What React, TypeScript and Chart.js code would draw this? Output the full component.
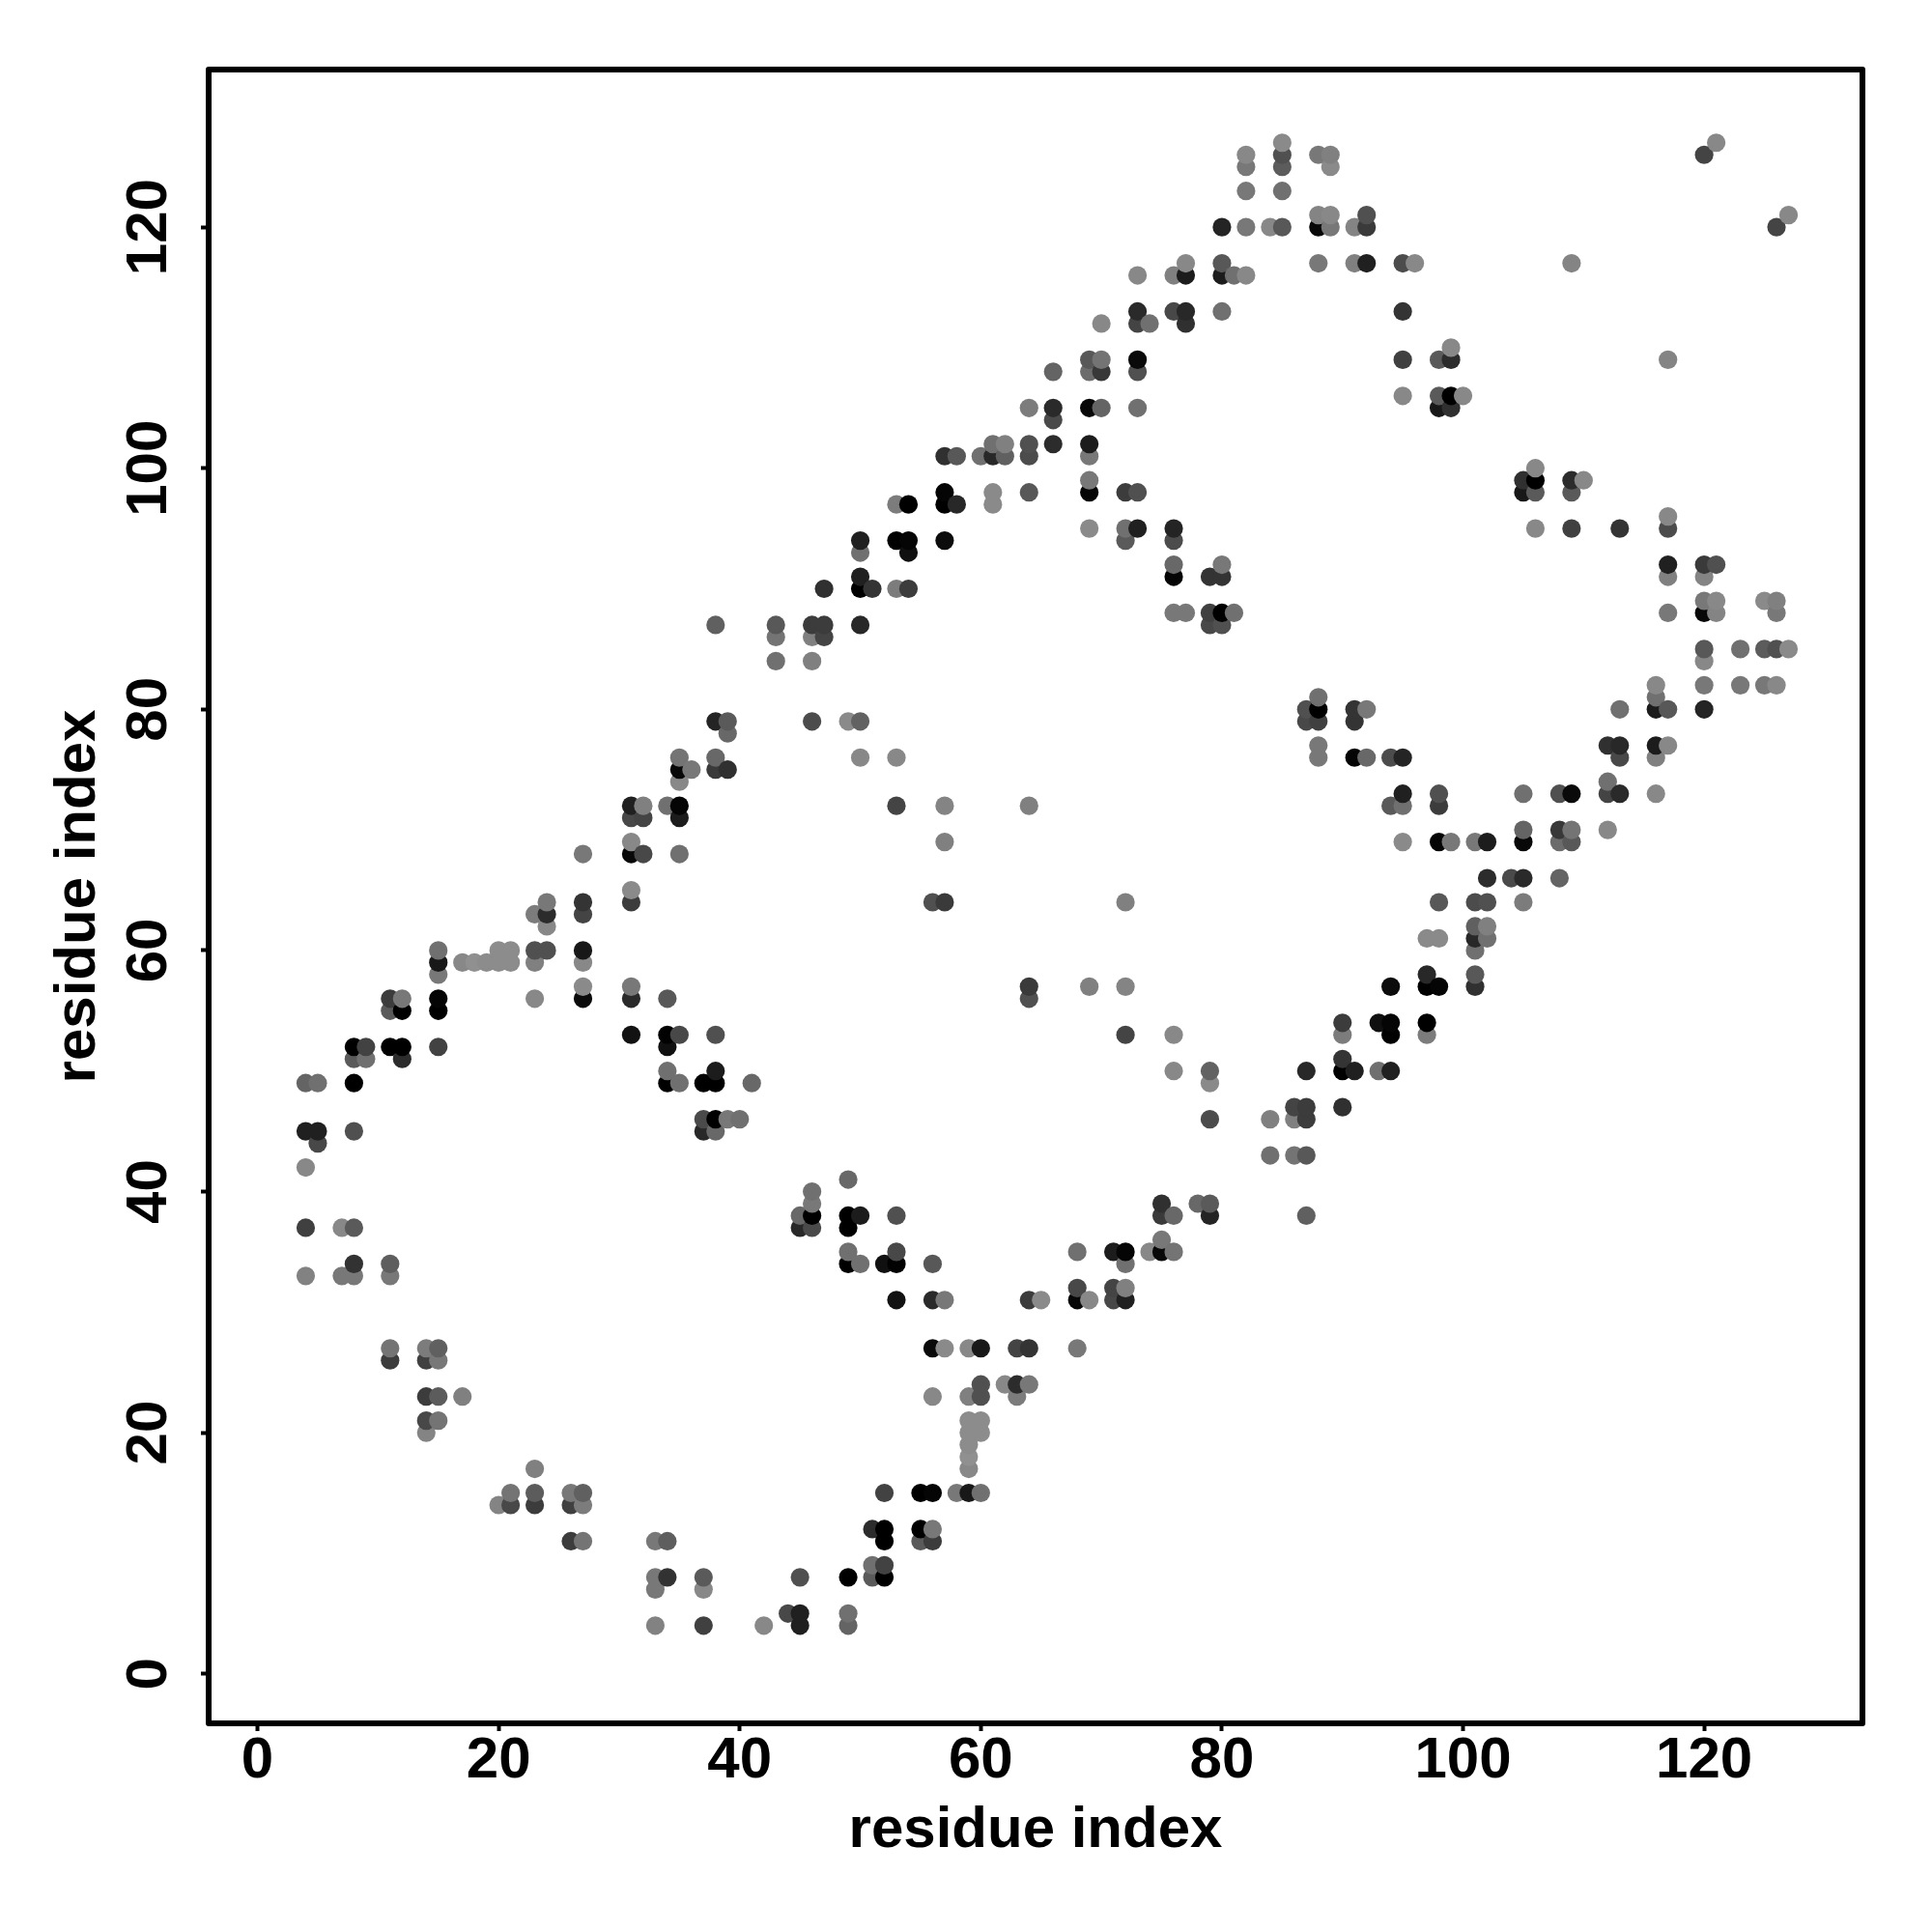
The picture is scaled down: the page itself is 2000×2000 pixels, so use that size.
import React, { useEffect, useRef } from "react";
import { Chart, registerables } from "chart.js";

Chart.register(...registerables);

// Upper-triangle contacts: each row j lists partner residues i and their gray level.
const rowJ = [127, 126, 125, 123, 121, 120, 117, 116, 113, 112, 110, 109, 108, 106, 105, 104, 102, 101, 99, 98, 97, 95, 94, 93, 92, 91, 90, 88, 87, 86, 84, 79, 78, 76, 75, 74, 72, 71, 69, 68, 65, 64, 63, 62, 60, 59, 58, 57, 56, 55, 53, 52, 51, 50, 49, 46, 45, 44, 42, 37, 34, 33, 27, 26, 23, 21, 20];

const rowResidues = [
  [85, 121], [82, 85, 88, 89, 120], [82, 85, 89], [82, 85], [88, 89, 92],
  [80, 82, 84, 85, 88, 89, 91, 92], [77, 80, 88, 91, 92, 95, 96, 109], [73, 76, 77, 80, 81, 82],
  [73, 76, 77, 80, 95], [70, 73, 74, 77], [99], [69, 70, 73, 95, 98, 99], [66, 69, 70, 73],
  [95, 98, 99, 100], [64, 66, 69, 70, 73, 98, 99], [66], [61, 62, 64, 66, 69], [57, 58, 60, 61, 62, 64, 69],
  [69], [57, 61, 64, 69, 72, 73], [53, 54, 57, 58, 61], [69, 72, 73, 76], [50, 53, 54, 57, 72, 76],
  [50, 54], [76, 80], [50, 76, 79, 80], [47, 50, 51, 53, 54], [76, 77, 79, 80, 81],
  [38, 43, 46, 47, 50, 79, 80], [43, 46, 47], [43, 46], [38, 39, 46, 49, 50], [39],
  [35, 38, 50, 53], [35, 36, 38, 39], [35], [31, 32, 34, 35, 53, 57, 64], [31, 32, 35], [31, 57],
  [27, 31, 32, 35], [31], [24, 27, 31, 56, 57], [23, 24, 27], [24], [15, 20, 21, 23, 24, 27],
  [15, 17, 18, 19, 20, 21, 23, 27], [15], [27, 31], [11, 12, 15, 23, 27, 31, 34], [11, 12, 15],
  [31, 34, 35, 38], [8, 9, 11, 12, 15, 34], [8, 9, 12], [34, 38], [4, 5, 8, 34, 35, 37, 38, 41],
  [37, 38, 39, 40], [4, 5, 8, 37, 38], [5], [4], [4, 7, 8], [8, 11], [4, 7, 8, 11], [11, 14, 15],
  [11, 14, 15], [14, 15, 17], [14, 15], [14],
];

const rowGrays = [
  [0x8a, 0x88], [0x88, 0x50, 0x78, 0x80, 0x44], [0x78, 0x5c, 0x8a], [0x78, 0x70], [0x84, 0x88, 0x50],
  [0x24, 0x78, 0x88, 0x58, 0x08, 0x78, 0x84, 0x3a], [0x88, 0x58, 0x78, 0x80, 0x20, 0x4c, 0x88, 0x84], [0x88, 0x80, 0x1c, 0x1c, 0x70, 0x88],
  [0x2a, 0x48, 0x28, 0x70, 0x34], [0x88, 0x44, 0x70, 0x30], [0x88], [0x58, 0x74, 0x0a, 0x40, 0x5a, 0x2c], [0x64, 0x6c, 0x38, 0x50],
  [0x88, 0x5a, 0x00, 0x88], [0x7c, 0x2a, 0x08, 0x64, 0x70, 0x18, 0x30], [0x4a], [0x70, 0x80, 0x50, 0x2c, 0x1c], [0x30, 0x58, 0x70, 0x28, 0x60, 0x4c, 0x78],
  [0x78], [0x05, 0x8a, 0x58, 0x05, 0x3c, 0x50], [0x7c, 0x00, 0x00, 0x28, 0x8a], [0x8a, 0x70, 0x20, 0x24], [0x20, 0x00, 0x05, 0x0c, 0x5a, 0x4c],
  [0x70, 0x10], [0x68, 0x78], [0x20, 0x05, 0x34, 0x34], [0x30, 0x00, 0x34, 0x7c, 0x3c], [0x78, 0x78, 0x40, 0x00, 0x70],
  [0x60, 0x58, 0x3c, 0x3c, 0x28, 0x48, 0x50], [0x74, 0x80, 0x44], [0x70, 0x80], [0x24, 0x5a, 0x4c, 0x8a, 0x62], [0x68],
  [0x74, 0x68, 0x88, 0x88], [0x08, 0x78, 0x3a, 0x30], [0x88], [0x20, 0x80, 0x70, 0x05, 0x44, 0x84, 0x80], [0x48, 0x44, 0x1c], [0x88, 0x80],
  [0x78, 0x08, 0x48, 0x70], [0x8a], [0x78, 0x34, 0x3c, 0x50, 0x3a], [0x7c, 0x2c, 0x44], [0x88], [0x70, 0x8c, 0x8c, 0x50, 0x50, 0x18],
  [0x18, 0x88, 0x90, 0x8c, 0x8c, 0x8c, 0x80, 0x88], [0x78], [0x8a, 0x78], [0x3c, 0x78, 0x05, 0x88, 0x0a, 0x2a, 0x58], [0x5a, 0x00, 0x00],
  [0x12, 0x02, 0x48, 0x50], [0x00, 0x42, 0x00, 0x00, 0x42, 0x10], [0x5a, 0x70, 0x2c], [0x70, 0x1c], [0x64, 0x70, 0x00, 0x00, 0x70, 0x00, 0x00, 0x68],
  [0x4a, 0x00, 0x78, 0x70], [0x20, 0x20, 0x50, 0x28, 0x68], [0x48], [0x88], [0x40, 0x88, 0x5a], [0x32, 0x5e], [0x82, 0x78, 0x78, 0x78], [0x74, 0x7c, 0x60],
  [0x3c, 0x40, 0x78], [0x3c, 0x5c, 0x80], [0x48, 0x74], [0x84],
];

const tickValues = [0, 20, 40, 60, 80, 100, 120];
const axisTitle = "residue index";
const FONT = '"Liberation Sans", Arimo, Helvetica, Arial, sans-serif';

export default function App() {
  const ref = useRef<HTMLCanvasElement | null>(null);
  useEffect(() => {
    document.body.style.margin = "0";
    const contacts: { x: number; y: number; g: number }[] = [];
    rowJ.forEach((j, r) => {
      rowResidues[r].forEach((i, k) => {
        contacts.push({ x: i, y: j, g: rowGrays[r][k] });
        contacts.push({ x: j, y: i, g: rowGrays[r][k] });
      });
    });
    contacts.sort((a, b) => a.x - b.x || a.y - b.y);

    const framePlugin = {
      id: "frame",
      afterDraw(chart: any) {
        const { ctx, chartArea: a, scales } = chart;
        ctx.save();
        ctx.strokeStyle = "#000";
        ctx.lineWidth = 6;
        ctx.lineJoin = "round";
        ctx.strokeRect(a.left, a.top, a.right - a.left, a.bottom - a.top);
        ctx.fillStyle = "#000";
        ctx.font = `bold 60px ${FONT}`;
        ctx.textAlign = "center";
        ctx.textBaseline = "alphabetic";
        for (const v of tickValues) {
          const py = scales.y.getPixelForValue(v);
          ctx.save();
          ctx.translate(172, py);
          ctx.rotate(-Math.PI / 2);
          ctx.fillText(String(v), 0, 0);
          ctx.restore();
        }
        ctx.restore();
      },
    };

    const chart = new Chart(ref.current as HTMLCanvasElement, {
      type: "scatter",
      data: {
        datasets: [
          {
            label: "contacts",
            data: contacts.map((c) => ({ x: c.x, y: c.y })),
            pointRadius: 9.6,
            pointHoverRadius: 9.6,
            pointBorderWidth: 0,
            pointBackgroundColor: contacts.map((c) => `rgb(${c.g},${c.g},${c.g})`),
          },
        ],
      },
      options: {
        animation: false,
        responsive: false,
        devicePixelRatio: 1,
        layout: { padding: { left: 0, top: 72, right: 72, bottom: 0 } },
        plugins: { legend: { display: false }, tooltip: { enabled: false } },
        scales: {
          x: {
            type: "linear",
            min: -4.05,
            max: 133.13,
            afterFit(s: any) {
              s.height = 216;
            },
            border: { display: false },
            grid: { drawOnChartArea: false, drawTicks: true, tickLength: 8, tickWidth: 4, tickColor: "#000" },
            ticks: {
              stepSize: 20,
              includeBounds: false,
              maxRotation: 0,
              minRotation: 0,
              autoSkip: false,
              padding: -5,
              color: "#000",
              font: { family: FONT, size: 60, weight: "bold" },
            },
            title: {
              display: true,
              text: axisTitle,
              color: "#000",
              font: { family: FONT, size: 60, weight: "bold" },
              padding: { top: 69, bottom: 69 },
            },
          },
          y: {
            type: "linear",
            min: -4.11,
            max: 133.07,
            afterFit(s: any) {
              s.width = 216;
            },
            border: { display: false },
            grid: { drawOnChartArea: false, drawTicks: true, tickLength: 8, tickWidth: 4, tickColor: "#000" },
            ticks: { stepSize: 20, includeBounds: false, display: false },
            title: {
              display: true,
              text: axisTitle,
              color: "#000",
              font: { family: FONT, size: 60, weight: "bold" },
              padding: { top: 45, bottom: 45 },
            },
          },
        },
      } as any,
      plugins: [framePlugin],
    });
    return () => chart.destroy();
  }, []);
  return <canvas ref={ref} width={2000} height={2000} style={{ display: "block", background: "#fff" }} />;
}
